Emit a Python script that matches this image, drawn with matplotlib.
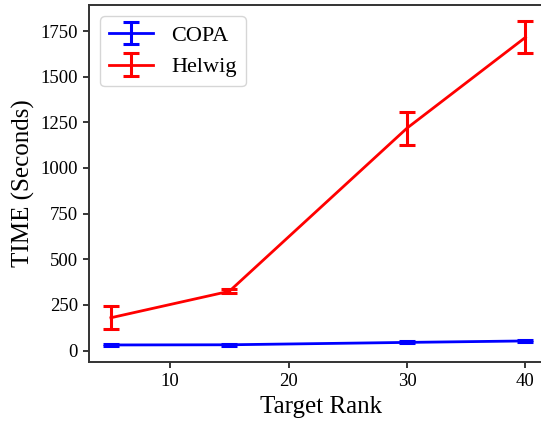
import matplotlib
matplotlib.use('Agg')
import matplotlib.pyplot as plt

# Tiempos medios y desviaciones por rango objetivo
ranks = [5, 15, 30, 40]
copa_mean = [31, 32, 45, 53]
copa_std = [5, 5, 6, 6]
helwig_mean = [180, 325, 1218, 1715]
helwig_std = [63, 10, 90, 88]

plt.rcParams['font.family'] = ['Liberation Serif', 'DejaVu Serif']

fig = plt.figure(figsize=(5.41, 4.26), dpi=100)
ax = fig.add_axes([0.1645, 0.150, 0.857, 0.838])

ax.errorbar(ranks, copa_mean, yerr=copa_std, color='blue', linewidth=2,
            elinewidth=2.2, capsize=6, capthick=2.2, label='COPA')
ax.errorbar(ranks, helwig_mean, yerr=helwig_std, color='red', linewidth=2,
            elinewidth=2.2, capsize=6, capthick=2.2, label='Helwig')

ax.set_xlim(3.15, 42.3)
ax.set_xticks([10, 20, 30, 40])
ax.set_yticks(range(0, 1751, 250))
ax.tick_params(labelsize=13.5, length=4.5, width=1.1)
for s in ax.spines.values():
    s.set_linewidth(1.4)
    s.set_color('#333333')

ax.set_xlabel('Target Rank', fontsize=18)
ax.set_ylabel('TIME (Seconds)', fontsize=18)
ax.legend(loc='upper left', fontsize=16, handlelength=2.0)

fig.savefig('out.png', dpi=100)
